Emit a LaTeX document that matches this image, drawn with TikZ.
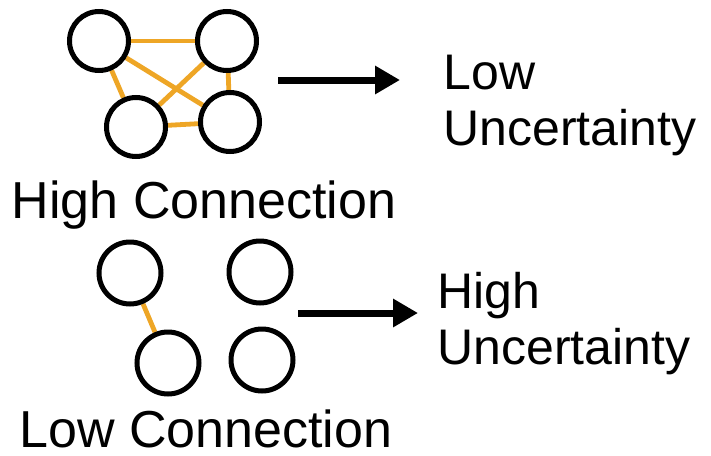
\documentclass[tikz,border=0pt]{standalone}
\usepackage{fontspec}
\setmainfont{Liberation Sans}
\usetikzlibrary{arrows.meta,backgrounds}
\definecolor{linkorange}{RGB}{238,166,38}
\tikzset{
  agent/.style={circle,draw=black,line width=2.5pt,minimum size=29.5pt,inner sep=0pt},
  link/.style={linkorange,line width=2.4pt},
  flow/.style={-{Triangle[length=12.5pt,width=13.5pt]},line width=3.5pt},
  lbl/.style={inner sep=0pt,font=\fontsize{25}{28}\selectfont},
  grouplbl/.style={lbl,font=\fontsize{26}{30}\selectfont}
}
\begin{document}
\begin{tikzpicture}[x=0.5pt,y=-0.5pt]
\useasboundingbox (0,0) rectangle (711,455);

% gruppo connesso
\node[agent] (h1) at (99,41) {};
\node[agent] (h2) at (227,41) {};
\node[agent] (h3) at (136,127) {};
\node[agent] (h4) at (230,122) {};
\begin{scope}[on background layer]
\foreach \a/\b in {h1/h2,h1/h3,h1/h4,h2/h3,h2/h4,h3/h4}
  \draw[link] (\a) -- (\b);
\end{scope}
\node[grouplbl,anchor=base] (highC) at (204,218) {High Connection};

% freccia superiore
\coordinate (hiA) at (278,80);
\coordinate (hiB) at (400,80);
\draw[flow] (hiA) -- (hiB);
\node[lbl,align=left,anchor=north west] (lowU) at (443,55) {Low\\Uncertainty};

% gruppo sparso
\node[agent,minimum size=31pt] (l1) at (130,273) {};
\node[agent,minimum size=31pt] (l2) at (260,272) {};
\node[agent,minimum size=31pt] (l3) at (168,363) {};
\node[agent,minimum size=31pt] (l4) at (262,360) {};
\begin{scope}[on background layer]
\draw[link] (l1) -- (l3);
\end{scope}
\node[grouplbl,anchor=base] (lowC) at (206,447) {Low Connection};

% freccia inferiore
\coordinate (loA) at (298,313);
\coordinate (loB) at (418,313);
\draw[flow] (loA) -- (loB);
\node[lbl,align=left,anchor=north west] (highU) at (437,272) {High\\Uncertainty};

\end{tikzpicture}
\end{document}
